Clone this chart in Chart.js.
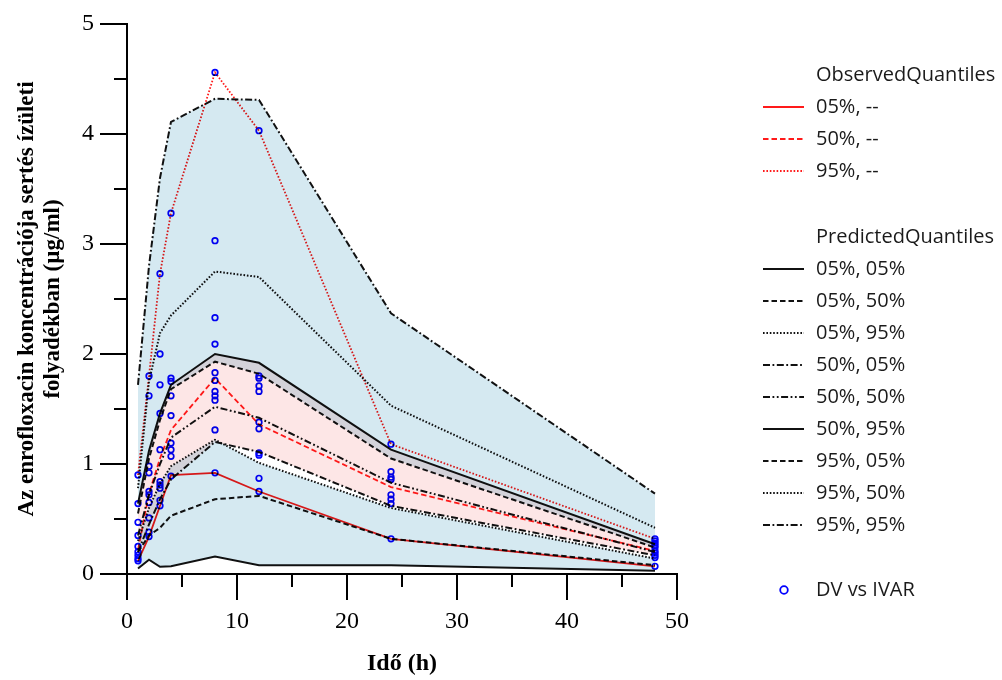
<!DOCTYPE html>
<html>
<head>
<meta charset="utf-8">
<script src="https://cdn.jsdelivr.net/npm/chart.js@4.4.1/dist/chart.umd.min.js"></script>
<style>
  html, body { margin: 0; padding: 0; background: #ffffff; }
  #wrap { width: 1002px; height: 680px; position: relative; }
</style>
</head>
<body>
<div id="wrap"><canvas id="vpc" width="1002" height="680"></canvas></div>
<script>
// Sampling times (h)
const times = [1, 2, 3, 4, 8, 12, 24, 48];

// Observed quantiles
const obs05 = [0.12, 0.34, 0.62, 0.90, 0.92, 0.75, 0.32, 0.07];
const obs50 = [0.22, 0.73, 1.05, 1.31, 1.78, 1.36, 0.79, 0.21];
const obs95 = [0.90, 1.80, 2.73, 3.28, 4.56, 4.03, 1.18, 0.32];

// Predicted quantiles: percentile, confidence bound
const pred05_05 = [0.05, 0.13, 0.065, 0.07, 0.16, 0.08, 0.08, 0.03];
const pred05_50 = [0.20, 0.35, 0.42, 0.53, 0.68, 0.71, 0.32, 0.08];
const pred05_95 = [0.30, 0.60, 0.82, 0.98, 1.22, 1.01, 0.60, 0.14];
const pred50_05 = [0.20, 0.45, 0.68, 0.86, 1.20, 1.11, 0.62, 0.17];
const pred50_50 = [0.35, 0.72, 1.00, 1.24, 1.52, 1.42, 0.83, 0.20];
const pred50_95 = [0.64, 1.12, 1.46, 1.72, 2.00, 1.92, 1.13, 0.27];
const pred95_05 = [0.55, 1.05, 1.40, 1.68, 1.93, 1.82, 1.05, 0.24];
const pred95_50 = [0.78, 1.75, 2.19, 2.35, 2.75, 2.70, 1.53, 0.42];
const pred95_95 = [1.72, 2.80, 3.60, 4.11, 4.32, 4.31, 2.37, 0.73];

// Measured concentrations (DV) at each sampling time
const dvT1  = [0.90, 0.64, 0.47, 0.35, 0.25, 0.20, 0.17, 0.14, 0.12];
const dvT2  = [1.80, 1.62, 0.98, 0.92, 0.75, 0.72, 0.65, 0.51, 0.38, 0.34];
const dvT3  = [2.73, 2.00, 1.72, 1.46, 1.13, 0.84, 0.81, 0.78, 0.67, 0.62];
const dvT4  = [3.28, 1.78, 1.75, 1.62, 1.44, 1.19, 1.13, 1.07, 0.89];
const dvT8  = [4.56, 3.03, 2.33, 2.09, 1.83, 1.76, 1.66, 1.62, 1.58, 1.31, 0.92];
const dvT12 = [4.03, 1.80, 1.78, 1.71, 1.66, 1.38, 1.32, 1.10, 1.08, 0.87, 0.75];
const dvT24 = [1.18, 0.93, 0.88, 0.86, 0.72, 0.68, 0.64, 0.32];
const dvT48 = [0.32, 0.30, 0.28, 0.26, 0.24, 0.21, 0.19, 0.17, 0.15, 0.07];

// Axis ticks
const xMajorTicks = [0, 10, 20, 30, 40, 50];
const yMajorTicks = [0, 1, 2, 3, 4, 5];

const dvGroups = [[1, dvT1], [2, dvT2], [3, dvT3], [4, dvT4], [8, dvT8], [12, dvT12], [24, dvT24], [48, dvT48]];

const BLUE_BAND = 'rgb(213,233,241)';
const PINK_BAND = 'rgb(253,230,230)';
const RED = '#ff1a1a';
const BLACK = '#111111';

const DASH = [5.5, 3];
const DOT = [1.6, 1.8];
const DASHDOT = [7, 2.5, 1.8, 2.5];
const DASHDOTDOT = [7, 2.5, 1.8, 2.5, 1.8, 2.5];

const pts = arr => times.map((t, i) => ({ x: t, y: arr[i] }));

function lineSet(label, arr, color, dash, width, order, fill) {
  return {
    label: label,
    data: pts(arr),
    borderColor: color,
    backgroundColor: 'rgba(0,0,0,0)',
    borderDash: dash,
    borderWidth: width,
    pointRadius: 0,
    tension: 0,
    order: order,
    fill: fill || false,
    legendGroup: order === 1 ? 'obs' : 'pred'
  };
}

const band = (target, color) => ({ target: target, above: color, below: color });

const datasets = [
  lineSet('05%, --', obs05, RED, [], 1.8, 1),                           // 0
  lineSet('50%, --', obs50, RED, DASH, 1.8, 1),                         // 1
  lineSet('95%, --', obs95, RED, DOT, 1.8, 1),                          // 2
  lineSet('05%, 05%', pred05_05, BLACK, [], 2, 2),                      // 3
  lineSet('05%, 50%', pred05_50, BLACK, DASH, 2, 2),                    // 4
  lineSet('05%, 95%', pred05_95, BLACK, DOT, 2, 2, band(3, BLUE_BAND)),     // 5
  lineSet('50%, 05%', pred50_05, BLACK, DASHDOT, 2, 2),                 // 6
  lineSet('50%, 50%', pred50_50, BLACK, DASHDOTDOT, 2, 2),              // 7
  lineSet('50%, 95%', pred50_95, BLACK, [], 2, 2, band(6, PINK_BAND)),      // 8
  lineSet('95%, 05%', pred95_05, BLACK, DASH, 2, 2),                    // 9
  lineSet('95%, 50%', pred95_50, BLACK, DOT, 2, 2),                     // 10
  lineSet('95%, 95%', pred95_95, BLACK, DASHDOT, 2, 2, band(9, BLUE_BAND)), // 11
  {
    label: 'DV vs IVAR',
    data: dvGroups.flatMap(([t, vals]) => vals.map(v => ({ x: t, y: v }))),
    showLine: false,
    pointStyle: 'circle',
    pointRadius: 2.8,
    pointBorderWidth: 1.7,
    pointBorderColor: '#0000ff',
    pointBackgroundColor: 'rgba(0,0,0,0)',
    borderColor: '#0000ff',
    order: 0,
    fill: false,
    legendGroup: 'dv'
  }
];

// Overlapping confidence bands darken each other like ink
const blendPlugin = {
  id: 'blend',
  beforeDraw(chart) { chart.ctx.globalCompositeOperation = 'multiply'; }
};

// Outward tick marks: long at labelled values, short in between
const tickMarks = {
  id: 'tickMarks',
  afterDraw(chart) {
    const ctx = chart.ctx;
    const xs = chart.scales.x, ys = chart.scales.y;
    ctx.save();
    ctx.strokeStyle = '#000';
    ctx.lineWidth = 2;
    ctx.beginPath();
    xs.ticks.forEach(t => {
      const px = Math.round(xs.getPixelForValue(t.value));
      const len = xMajorTicks.includes(t.value) ? 26 : 13;
      ctx.moveTo(px, xs.top);
      ctx.lineTo(px, xs.top + len);
    });
    ys.ticks.forEach(t => {
      const py = Math.round(ys.getPixelForValue(t.value));
      const len = yMajorTicks.includes(t.value) ? 27 : 13;
      ctx.moveTo(ys.right, py);
      ctx.lineTo(ys.right - len, py);
    });
    ctx.stroke();
    ctx.restore();
  }
};

// Grouped legend with section headers
const groupedLegend = {
  id: 'groupedLegend',
  afterDraw(chart) {
    const ctx = chart.ctx;
    const ds = chart.data.datasets;
    const textX = 816, lineX0 = 763, lineX1 = 804;
    ctx.save();
    ctx.font = '20px "Open Sans"';
    ctx.fillStyle = '#1a1a1a';
    ctx.textBaseline = 'middle';
    ctx.textAlign = 'left';

    const rows = [];
    rows.push({ header: 'ObservedQuantiles', y: 75 });
    let y = 107;
    ds.forEach(d => { if (d.legendGroup === 'obs') { rows.push({ d, y }); y += 32; } });
    rows.push({ header: 'PredictedQuantiles', y: 237 });
    y = 269;
    ds.forEach(d => { if (d.legendGroup === 'pred') { rows.push({ d, y }); y += 32; } });
    ds.forEach(d => { if (d.legendGroup === 'dv') rows.push({ d, y: 590, marker: true }); });

    rows.forEach(r => {
      if (r.header) {
        ctx.fillText(r.header, textX, r.y);
        return;
      }
      const d = r.d;
      if (r.marker) {
        ctx.beginPath();
        ctx.strokeStyle = d.pointBorderColor;
        ctx.lineWidth = 1.8;
        ctx.setLineDash([]);
        ctx.arc(784, r.y, 3.8, 0, Math.PI * 2);
        ctx.stroke();
      } else {
        ctx.beginPath();
        ctx.strokeStyle = d.borderColor;
        ctx.lineWidth = d.borderWidth;
        ctx.setLineDash(d.borderDash);
        ctx.moveTo(lineX0, r.y);
        ctx.lineTo(lineX1, r.y);
        ctx.stroke();
      }
      ctx.setLineDash([]);
      ctx.fillText(d.label, textX, r.y);
    });
    ctx.restore();
  }
};

new Chart(document.getElementById('vpc'), {
  type: 'line',
  data: { datasets },
  options: {
    responsive: false,
    animation: false,
    devicePixelRatio: 1,
    layout: { padding: { left: 0, top: 24, right: 325, bottom: 0 } },
    plugins: {
      legend: { display: false },
      tooltip: { enabled: false },
      filler: { drawTime: 'beforeDatasetsDraw', propagate: false }
    },
    scales: {
      x: {
        type: 'linear',
        min: 0,
        max: 50,
        ticks: {
          stepSize: 5,
          autoSkip: false,
          maxRotation: 0,
          padding: 7,
          color: '#000',
          font: { family: '"Liberation Serif", serif', size: 24 },
          callback: v => (xMajorTicks.includes(v) ? String(v) : '')
        },
        grid: { drawOnChartArea: false, drawTicks: true, tickLength: 26, tickColor: 'rgba(0,0,0,0)' },
        border: { display: true, color: '#000', width: 2 },
        title: {
          display: true,
          text: 'Idő (h)',
          color: '#000',
          font: { family: '"Liberation Serif", serif', size: 24, weight: 'bold' },
          padding: { top: 0, bottom: 2 }
        },
        afterFit: s => { s.height = 106; }
      },
      y: {
        type: 'linear',
        min: 0,
        max: 5,
        ticks: {
          stepSize: 0.5,
          autoSkip: false,
          padding: 6,
          color: '#000',
          font: { family: '"Liberation Serif", serif', size: 24 },
          callback: v => (yMajorTicks.includes(v) ? String(v) : '')
        },
        grid: { drawOnChartArea: false, drawTicks: true, tickLength: 27, tickColor: 'rgba(0,0,0,0)' },
        border: { display: true, color: '#000', width: 2 },
        title: {
          display: true,
          text: ['Az enrofloxacin koncentrációja sertés ízületi', 'folyadékban (µg/ml)'],
          color: '#000',
          font: { family: '"Liberation Serif", serif', size: 23, weight: 'bold', lineHeight: 1.13 },
          padding: { top: 14, bottom: 0 }
        },
        afterFit: s => { s.width = 127; }
      }
    }
  },
  plugins: [blendPlugin, tickMarks, groupedLegend]
});
</script>
</body>
</html>
